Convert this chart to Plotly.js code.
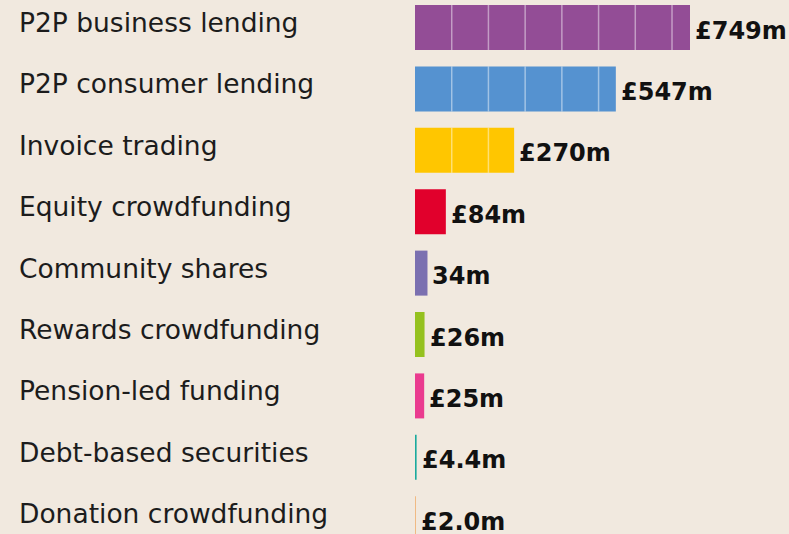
<!DOCTYPE html>
<html>
<head>
<meta charset="utf-8">
<script src="https://cdn.plot.ly/plotly-3.0.1.min.js"></script>
<style>html,body{margin:0;padding:0;background:#f1e9df;}</style>
</head>
<body>
<div id="chart" style="width:789px;height:534px;"></div>
<script>
const categories = ["P2P business lending","P2P consumer lending","Invoice trading","Equity crowdfunding","Community shares","Rewards crowdfunding","Pension-led funding","Debt-based securities","Donation crowdfunding"];
const values = [749, 547, 270, 84, 34, 26, 25, 4.4, 2.0];
const valueLabels = ["£749m","£547m","£270m","£84m","34m","£26m","£25m","£4.4m","£2.0m"];
const colors = ["#934d96","#5592d0","#ffc600","#e1002c","#7b70b0","#95c11f","#ea3b8f","#1aaa9d","#f0a963"];
const gridStep = 100;

const barWidth = 0.733;
const trace = {
  type: "bar", orientation: "h",
  y: categories, x: values,
  marker: {color: colors, line: {width: 0}},
  width: barWidth,
  hoverinfo: "none"
};

const annotations = [];
categories.forEach((c, i) => {
  annotations.push({
    xref: "paper", yref: "y", x: -398/374, y: c, xanchor: "left", yanchor: "middle",
    text: c, showarrow: false, yshift: 5,
    font: {family: "DejaVu Sans, sans-serif", size: 26.5, color: "#1c1c1c"}
  });
  annotations.push({
    xref: "x", yref: "y", x: values[i], y: c, xanchor: "left", yanchor: "middle",
    text: valueLabels[i], showarrow: false, xshift: 3, yshift: -3,
    font: {family: "DejaVu Sans, sans-serif", size: 24, color: "#111111", weight: 700}
  });
});

const shapes = [];
values.forEach((v, i) => {
  for (let g = gridStep; g < v; g += gridStep) {
    shapes.push({
      type: "line", xref: "x", yref: "y", x0: g, x1: g,
      y0: i - barWidth/2, y1: i + barWidth/2,
      line: {color: "rgba(255,255,255,0.45)", width: 1.5}, layer: "above"
    });
  }
});

const pxPerUnit = 275/749;
const layout = {
  width: 789, height: 534,
  margin: {l: 415, r: 0, t: 0, b: 0, pad: 0},
  paper_bgcolor: "#f1e9df", plot_bgcolor: "#f1e9df",
  showlegend: false,
  xaxis: {range: [0, 374/pxPerUnit], visible: false, fixedrange: true},
  yaxis: {type: "category", categoryarray: categories, range: [8.249, -0.448], visible: false, fixedrange: true},
  annotations: annotations,
  shapes: shapes
};

Plotly.newPlot("chart", [trace], layout, {displayModeBar: false, staticPlot: true});
</script>
</body>
</html>
